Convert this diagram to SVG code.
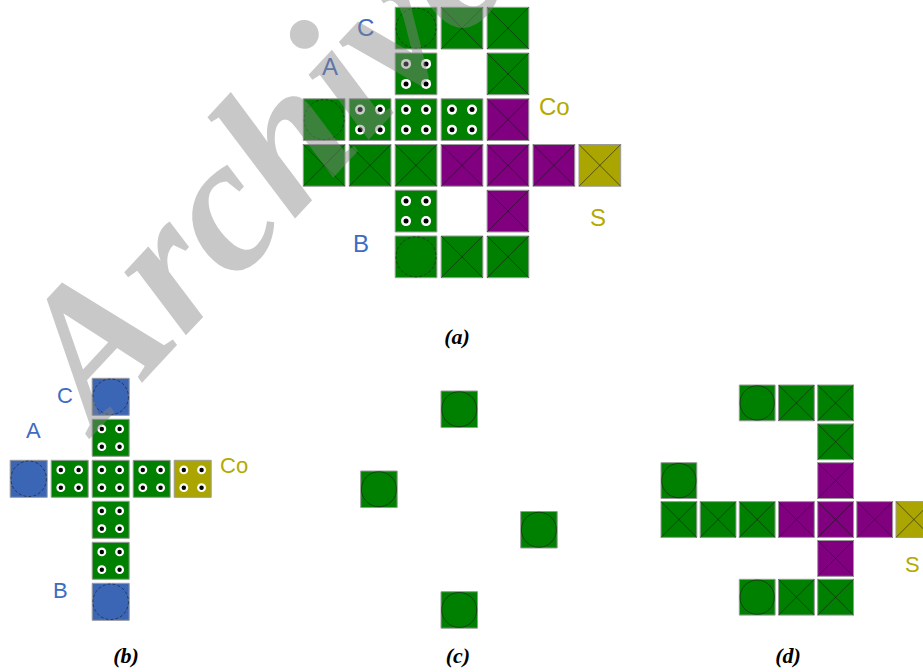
<svg xmlns="http://www.w3.org/2000/svg" xmlns:xlink="http://www.w3.org/1999/xlink" width="923" height="672" viewBox="0 0 923 672">
<style>
.cell{stroke:#9a9a9a;stroke-width:1;vector-effect:non-scaling-stroke}
.ln{stroke:#1a1a1a;stroke-opacity:0.75;stroke-width:0.8;fill:none;vector-effect:non-scaling-stroke}
.dash{stroke-dasharray:3 2}
.lb{font-family:"Liberation Sans",Arial,sans-serif}
.blue{fill:#3d6cc2}
.olv{fill:#b3aa00}
.cap{font-family:"Liberation Serif","Times New Roman",serif;font-weight:bold;font-style:italic;font-size:22px;fill:#000;text-anchor:middle}
.wm{font-family:"Liberation Serif","Times New Roman",serif;font-weight:bold;font-style:italic;fill:#858585;fill-opacity:0.45}
</style>
<defs>
<symbol id="dots" viewBox="0 0 100 100" style="overflow:visible">
<g fill="#ffffff"><circle cx="26" cy="26" r="12"/><circle cx="74" cy="26" r="12"/><circle cx="26" cy="74" r="12"/><circle cx="74" cy="74" r="12"/></g>
<g fill="#000000"><circle cx="26" cy="26" r="6"/><circle cx="74" cy="26" r="6"/><circle cx="26" cy="74" r="6"/><circle cx="74" cy="74" r="6"/></g>
</symbol>
<symbol id="xg" viewBox="0 0 100 100" style="overflow:visible"><rect class="cell" width="100" height="100" fill="#008000"/><path class="ln" d="M0 0L100 100M100 0L0 100"/></symbol>
<symbol id="xp" viewBox="0 0 100 100" style="overflow:visible"><rect class="cell" width="100" height="100" fill="#800080"/><path class="ln" d="M0 0L100 100M100 0L0 100"/></symbol>
<symbol id="xo" viewBox="0 0 100 100" style="overflow:visible"><rect class="cell" width="100" height="100" fill="#aaa500"/><path class="ln" d="M0 0L100 100M100 0L0 100"/></symbol>
<symbol id="cgd" viewBox="0 0 100 100" style="overflow:visible"><rect class="cell" width="100" height="100" fill="#008000"/><circle class="ln dash" cx="50" cy="50" r="48"/></symbol>
<symbol id="cg" viewBox="0 0 100 100" style="overflow:visible"><rect class="cell" width="100" height="100" fill="#008000"/><circle class="ln" cx="50" cy="50" r="48"/></symbol>
<symbol id="cb" viewBox="0 0 100 100" style="overflow:visible"><rect class="cell" width="100" height="100" fill="#3b66b5"/><circle class="ln dash" cx="50" cy="50" r="48"/></symbol>
<symbol id="dg" viewBox="0 0 100 100" style="overflow:visible"><rect class="cell" width="100" height="100" fill="#008000"/><use href="#dots" width="100" height="100"/></symbol>
<symbol id="do" viewBox="0 0 100 100" style="overflow:visible"><rect class="cell" width="100" height="100" fill="#aaa500"/><use href="#dots" width="100" height="100"/></symbol>
</defs>
<rect width="923" height="672" fill="#ffffff"/>

<!-- (a) -->
<g id="part-a">
<g id="a-r0c2"><use href="#cgd" x="395.2" y="7.3" width="41.7" height="41.7"/></g>
<g id="a-r0c3"><use href="#xg" x="441.15" y="7.3" width="41.7" height="41.7"/></g>
<g id="a-r0c4"><use href="#xg" x="487.1" y="7.3" width="41.7" height="41.7"/></g>
<g id="a-r1c2"><use href="#dg" x="395.2" y="53.04" width="41.7" height="41.7"/></g>
<g id="a-r1c4"><use href="#xg" x="487.1" y="53.04" width="41.7" height="41.7"/></g>
<g id="a-r2c0"><use href="#cgd" x="303.3" y="98.78" width="41.7" height="41.7"/></g>
<g id="a-r2c1"><use href="#dg" x="349.25" y="98.78" width="41.7" height="41.7"/></g>
<g id="a-r2c2"><use href="#dg" x="395.2" y="98.78" width="41.7" height="41.7"/></g>
<g id="a-r2c3"><use href="#dg" x="441.15" y="98.78" width="41.7" height="41.7"/></g>
<g id="a-r2c4"><use href="#xp" x="487.1" y="98.78" width="41.7" height="41.7"/></g>
<g id="a-r3c0"><use href="#xg" x="303.3" y="144.52" width="41.7" height="41.7"/></g>
<g id="a-r3c1"><use href="#xg" x="349.25" y="144.52" width="41.7" height="41.7"/></g>
<g id="a-r3c2"><use href="#xg" x="395.2" y="144.52" width="41.7" height="41.7"/></g>
<g id="a-r3c3"><use href="#xp" x="441.15" y="144.52" width="41.7" height="41.7"/></g>
<g id="a-r3c4"><use href="#xp" x="487.1" y="144.52" width="41.7" height="41.7"/></g>
<g id="a-r3c5"><use href="#xp" x="533.05" y="144.52" width="41.7" height="41.7"/></g>
<g id="a-r3c6"><use href="#xo" x="579" y="144.52" width="41.7" height="41.7"/></g>
<g id="a-r4c2"><use href="#dg" x="395.2" y="190.26" width="41.7" height="41.7"/></g>
<g id="a-r4c4"><use href="#xp" x="487.1" y="190.26" width="41.7" height="41.7"/></g>
<g id="a-r5c2"><use href="#cgd" x="395.2" y="236" width="41.7" height="41.7"/></g>
<g id="a-r5c3"><use href="#xg" x="441.15" y="236" width="41.7" height="41.7"/></g>
<g id="a-r5c4"><use href="#xg" x="487.1" y="236" width="41.7" height="41.7"/></g>
<g class="lb" font-size="24">
<text class="blue" x="357" y="36">C</text>
<text class="blue" x="322" y="75">A</text>
<text class="blue" x="353" y="252">B</text>
<text class="olv" x="539" y="115">Co</text>
<text class="olv" x="590" y="226">S</text>
</g>
<text class="cap" x="457" y="344">(a)</text>
</g>

<!-- (b) -->
<g id="part-b">
<g id="b-r0c2"><use href="#cb" x="92.2" y="378.3" width="37" height="37"/></g>
<g id="b-r1c2"><use href="#dg" x="92.2" y="419.3" width="37" height="37"/></g>
<g id="b-r2c0"><use href="#cb" x="10.2" y="460.3" width="37" height="37"/></g>
<g id="b-r2c1"><use href="#dg" x="51.2" y="460.3" width="37" height="37"/></g>
<g id="b-r2c2"><use href="#dg" x="92.2" y="460.3" width="37" height="37"/></g>
<g id="b-r2c3"><use href="#dg" x="133.2" y="460.3" width="37" height="37"/></g>
<g id="b-r2c4"><use href="#do" x="174.2" y="460.3" width="37" height="37"/></g>
<g id="b-r3c2"><use href="#dg" x="92.2" y="501.3" width="37" height="37"/></g>
<g id="b-r4c2"><use href="#dg" x="92.2" y="542.3" width="37" height="37"/></g>
<g id="b-r5c2"><use href="#cb" x="92.2" y="583.3" width="37" height="37"/></g>
<g class="lb" font-size="22">
<text class="blue" x="57" y="403">C</text>
<text class="blue" x="26" y="438">A</text>
<text class="blue" x="53" y="598">B</text>
<text class="olv" x="220" y="473">Co</text>
</g>
<text class="cap" x="126" y="663">(b)</text>
</g>

<!-- (c) -->
<g id="part-c">
<g id="c-top"><use href="#cg" x="441" y="391" width="36.5" height="36.5"/></g>
<g id="c-left"><use href="#cg" x="360.7" y="471" width="36.5" height="36.5"/></g>
<g id="c-right"><use href="#cg" x="520.7" y="511.5" width="36.5" height="36.5"/></g>
<g id="c-bottom"><use href="#cg" x="441" y="591.7" width="36.5" height="36.5"/></g>
<text class="cap" x="458" y="663">(c)</text>
</g>

<!-- (d) -->
<g id="part-d">
<g id="d-r0c2"><use href="#cg" x="739.3" y="385" width="35.8" height="35.8"/></g>
<g id="d-r0c3"><use href="#xg" x="778.5" y="385" width="35.8" height="35.8"/></g>
<g id="d-r0c4"><use href="#xg" x="817.7" y="385" width="35.8" height="35.8"/></g>
<g id="d-r1c4"><use href="#xg" x="817.7" y="423.9" width="35.8" height="35.8"/></g>
<g id="d-r2c0"><use href="#cg" x="661" y="462.7" width="35.8" height="35.8"/></g>
<g id="d-r2c4"><use href="#xp" x="817.7" y="462.7" width="35.8" height="35.8"/></g>
<g id="d-r3c0"><use href="#xg" x="661" y="501.6" width="35.8" height="35.8"/></g>
<g id="d-r3c1"><use href="#xg" x="700.2" y="501.6" width="35.8" height="35.8"/></g>
<g id="d-r3c2"><use href="#xg" x="739.3" y="501.6" width="35.8" height="35.8"/></g>
<g id="d-r3c3"><use href="#xp" x="778.5" y="501.6" width="35.8" height="35.8"/></g>
<g id="d-r3c4"><use href="#xp" x="817.7" y="501.6" width="35.8" height="35.8"/></g>
<g id="d-r3c5"><use href="#xp" x="856.8" y="501.6" width="35.8" height="35.8"/></g>
<g id="d-r3c6"><use href="#xo" x="896" y="501.6" width="35.8" height="35.8"/></g>
<g id="d-r4c4"><use href="#xp" x="817.7" y="540.5" width="35.8" height="35.8"/></g>
<g id="d-r5c2"><use href="#cg" x="739.3" y="579.3" width="35.8" height="35.8"/></g>
<g id="d-r5c3"><use href="#xg" x="778.5" y="579.3" width="35.8" height="35.8"/></g>
<g id="d-r5c4"><use href="#xg" x="817.7" y="579.3" width="35.8" height="35.8"/></g>
<text class="lb olv" font-size="22" x="905" y="572">S</text>
<text class="cap" x="788" y="663">(d)</text>
</g>

<g id="connectors"/>

<text class="wm" font-size="192" transform="translate(96,432) rotate(-47)">Archive</text>
</svg>
